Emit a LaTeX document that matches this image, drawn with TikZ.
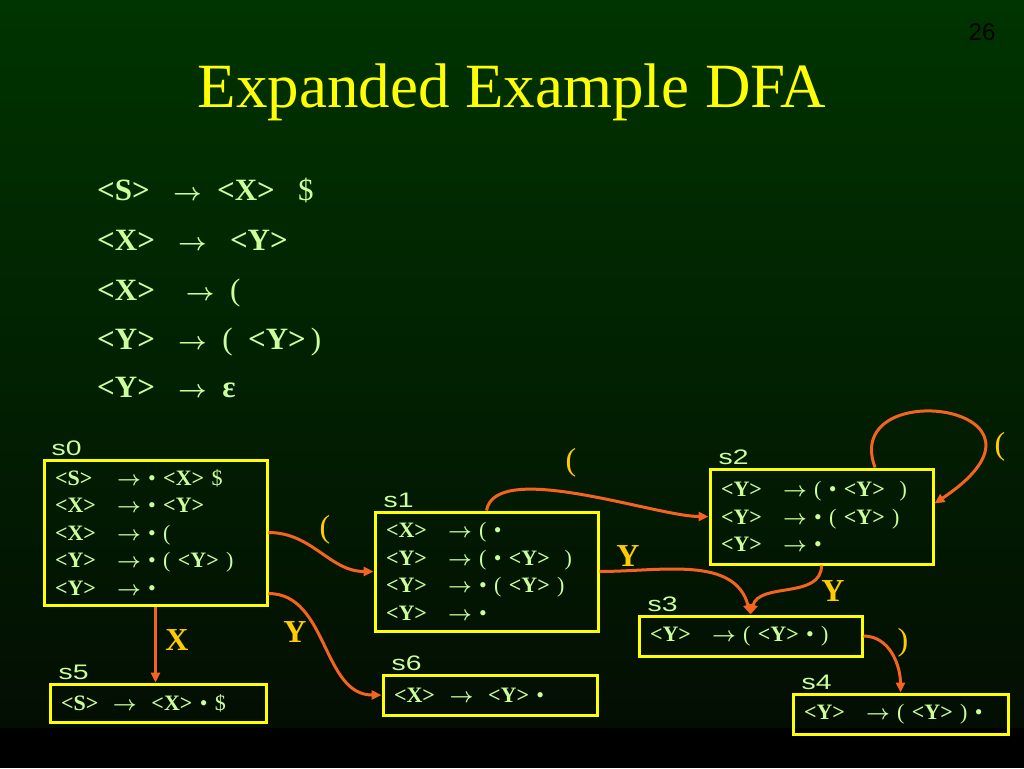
\documentclass[tikz,border=0pt]{standalone}
\usepackage{fontspec}
\setmainfont{Liberation Serif}
\newfontfamily\arialfont{Liberation Sans}
\usetikzlibrary{positioning,calc,arrows.meta}

\definecolor{bgtop}{RGB}{0,52,0}
\definecolor{bgbot}{RGB}{3,14,3}
\definecolor{prodgreen}{RGB}{204,255,153}
\definecolor{boxyellow}{RGB}{255,255,0}
\definecolor{edgeorange}{RGB}{245,100,30}
\definecolor{labelgold}{RGB}{255,204,0}

\newcommand{\nt}[1]{\textbf{<#1>}}
\newcommand{\lhs}[1]{\makebox[62pt][l]{\nt{#1}}}
\newcommand{\ra}{\mbox{\boldmath$\rightarrow$}}
\newcommand{\wide}[1]{\scalebox{1.35}[1]{#1}}

\begin{document}
\begin{tikzpicture}[x=1pt,y=1pt,
  state/.style={rectangle,draw=boxyellow,line width=3pt,text=prodgreen,align=left,
    inner xsep=10pt,font=\fontsize{22}{27.5}\selectfont},
  slabel/.style={text=prodgreen,font=\arialfont\fontsize{21}{21}\selectfont,anchor=base west,inner sep=0pt},
  rule/.style={text=prodgreen,font=\fontsize{31}{31}\selectfont,anchor=base west,inner sep=0pt},
  trans/.style={draw=edgeorange,line width=3pt,-{Triangle[length=10pt,width=9pt]}},
  sym/.style={text=labelgold,font=\fontsize{32}{32}\selectfont}]

\useasboundingbox (0,0) rectangle (1024,-768);
\shade[top color=bgtop,bottom color=bgbot] (0,0) rectangle (1024,-728);
\fill[black] (0,-728) rectangle (1024,-768);

\node[font=\arialfont\fontsize{24}{24}\selectfont,text=black] (page) at (982,-32) {26};
\node[text=boxyellow,font=\fontsize{63}{63}\selectfont,anchor=base] (title) at (512,-107) {Expanded Example DFA};

% grammar
\node[rule] (g1) at (97,-200) {\nt{S}\ \ \ \ra\ \ \nt{X}\ \ \ \$};
\node[rule] (g2) at (97,-250) {\nt{X}\ \ \ \ra\ \ \ \nt{Y}};
\node[rule] (g3) at (97,-300) {\nt{X}\ \ \ \ \ra\ \ (};
\node[rule] (g4) at (97,-349) {\nt{Y}\ \ \ \ra\ \ (\ \ \nt{Y}\,)};
\node[rule] (g5) at (97,-397) {\nt{Y}\ \ \ \ra\ \ \textbf{ε}};

% states
\node[state,minimum width=223pt,minimum height=145pt,text width=201pt] (s0) at (155.5,-532.5)
  {\lhs{S}\ra\ • \nt{X} \$\\ \lhs{X}\ra\ • \nt{Y}\\ \lhs{X}\ra\ • (\\ \lhs{Y}\ra\ • ( \nt{Y} )\\ \lhs{Y}\ra\ •};
\node[state,minimum width=223pt,minimum height=119pt,text width=201pt] (s1) at (486.5,-571.5)
  {\lhs{X}\ra\ ( •\\ \lhs{Y}\ra\ ( • \nt{Y}\ \ )\\ \lhs{Y}\ra\ • ( \nt{Y} )\\ \lhs{Y}\ra\ •};
\node[state,minimum width=223pt,minimum height=95pt,text width=201pt] (s2) at (821.5,-516.5)
  {\lhs{Y}\ra\ ( • \nt{Y}\ \ )\\ \lhs{Y}\ra\ • ( \nt{Y} )\\ \lhs{Y}\ra\ •};
\node[state,minimum width=223pt,minimum height=40pt,text width=201pt] (s3) at (750.5,-636)
  {\lhs{Y}\ra\ ( \nt{Y} • )};
\node[state,minimum width=215pt,minimum height=40pt,text width=193pt] (s4) at (900.5,-714)
  {\lhs{Y}\ra\ ( \nt{Y} ) •};
\node[state,minimum width=216pt,minimum height=38pt,text width=194pt] (s5) at (158,-703)
  {\nt{S}\ \ \ra\ \ \nt{X} • \$};
\node[state,minimum width=214pt,minimum height=40pt,text width=192pt] (s6) at (490,-695)
  {\nt{X}\ \ \ra\ \ \nt{Y} •};

\node[slabel] (l0) at ([xshift=9pt,yshift=3pt]s0.north west) {\wide{s0}};
\node[slabel] (l1) at ([xshift=10pt,yshift=3pt]s1.north west) {\wide{s1}};
\node[slabel] (l2) at ([xshift=10pt,yshift=3pt]s2.north west) {\wide{s2}};
\node[slabel] (l3) at ([xshift=10pt,yshift=3pt]s3.north west) {\wide{s3}};
\node[slabel] (l4) at ([xshift=10pt,yshift=3pt]s4.north west) {\wide{s4}};
\node[slabel] (l5) at ([xshift=10pt,yshift=3pt]s5.north west) {\wide{s5}};
\node[slabel] (l6) at ([xshift=10pt,yshift=3pt]s6.north west) {\wide{s6}};

% transitions
\draw[trans] (s0.east) to[out=0,in=180] (s1.west);
\draw[trans] ([yshift=-61pt]s0.east) to[out=0,in=180] (s6.west);
\draw[trans] (s0.south) -- (s0.south |- s5.north);
\draw[trans] (s1.north) to[out=80,in=180,looseness=0.6] (s2.west);
\draw[trans] (s1.east) to[out=0,in=105] (s3.north);
\draw[trans] (s2.south) to[out=-90,in=75] (s3.north);
\draw[trans] ([xshift=53.5pt]s2.north) .. controls +(-35,94) and +(147,98) .. ([yshift=13pt]s2.east);
\draw[trans] (s3.east) to[out=0,in=90] (s4.north);

\node[sym] (t01) at (325,-530) {(};
\node[sym] (t06) at (295,-632) {\textbf{Y}};
\node[sym] (t05) at (177,-640) {\textbf{X}};
\node[sym] (t12) at (571,-463) {(};
\node[sym] (t13) at (628,-556) {\textbf{Y}};
\node[sym] (t23) at (833,-591) {\textbf{Y}};
\node[sym] (t22) at (1000,-447) {(};
\node[sym] (t34) at (903,-643) {)};
\end{tikzpicture}
\end{document}
